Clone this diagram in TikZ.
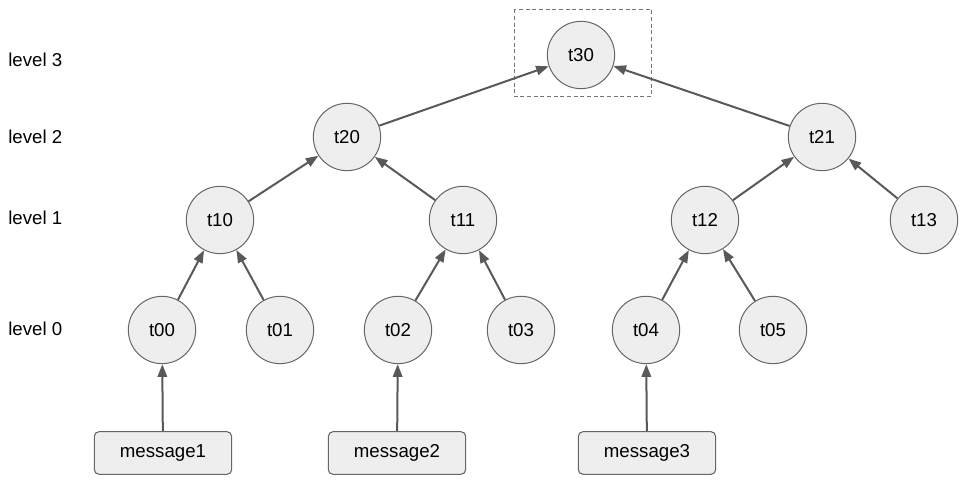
\documentclass[tikz,border=0pt]{standalone}
\usepackage{fontspec}
\setmainfont{Liberation Sans}
\usetikzlibrary{arrows.meta}
\definecolor{nodefill}{HTML}{EEEEEE}
\definecolor{nodeline}{HTML}{666666}
\definecolor{edgecol}{HTML}{595959}
\begin{document}
\begin{tikzpicture}[x=0.75pt,y=-0.75pt,
  task/.style={circle,draw=nodeline,fill=nodefill,line width=0.75pt,minimum size=50.5pt,inner sep=0pt,font=\fontsize{14}{16}\selectfont},
  msg/.style={draw=nodeline,fill=nodefill,line width=0.8pt,rounded corners=3.5pt,minimum width=103pt,minimum height=32pt,inner sep=0pt,font=\fontsize{14}{16}\selectfont},
  lvl/.style={anchor=west,inner sep=0pt,font=\fontsize{14}{16}\selectfont},
  edge/.style={draw=edgecol,line width=1.5pt,-{Triangle[length=9.5pt,width=7pt]}}]
  \useasboundingbox (0,0) rectangle (965,484);
  \draw[nodeline!90,line width=0.75pt,dash pattern=on 3pt off 2pt] (514,9.5) rectangle (651.5,96.5);
  \node[task] (t30) at (581,55) {t30};
  \node[task] (t20) at (347,137) {t20};
  \node[task] (t21) at (822,137) {t21};
  \node[task] (t10) at (220,220) {t10};
  \node[task] (t11) at (463,220) {t11};
  \node[task] (t12) at (705,220) {t12};
  \node[task] (t13) at (924,220) {t13};
  \node[task] (t00) at (162,330) {t00};
  \node[task] (t01) at (280,330) {t01};
  \node[task] (t02) at (398,330) {t02};
  \node[task] (t03) at (521,330) {t03};
  \node[task] (t04) at (646,330) {t04};
  \node[task] (t05) at (773,330) {t05};
  \node[msg] (m1) at (163,453) {message1};
  \node[msg] (m2) at (397,453) {message2};
  \node[msg] (m3) at (647,453) {message3};
  \node[lvl] (l3) at (8,60) {level 3};
  \node[lvl] (l2) at (8,137) {level 2};
  \node[lvl] (l1) at (8,218) {level 1};
  \node[lvl] (l0) at (8,329) {level 0};
  \foreach \a/\b in {t20/t30,t21/t30,t10/t20,t11/t20,t12/t21,t13/t21,t00/t10,t01/t10,t02/t11,t03/t11,t04/t12,t05/t12,m1/t00,m2/t02,m3/t04}
    \draw[edge] (\a) -- (\b);
\end{tikzpicture}
\end{document}
